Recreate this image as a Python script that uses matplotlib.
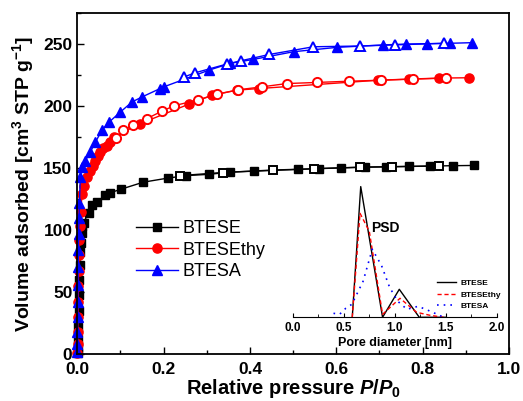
import matplotlib
matplotlib.use("Agg")
import matplotlib.pyplot as plt
from matplotlib.ticker import MultipleLocator

plt.rcParams['font.family'] = ['Liberation Sans', 'DejaVu Sans']
plt.rcParams['mathtext.fontset'] = 'custom'
plt.rcParams['mathtext.rm'] = 'Liberation Sans:bold'
plt.rcParams['mathtext.it'] = 'Liberation Sans:bold:italic'
plt.rcParams['mathtext.bf'] = 'Liberation Sans:bold'

# ---- Isotherm data (relative pressure, volume adsorbed) ----
btese_ads_x = [0.0005, 0.001, 0.0015, 0.002, 0.003, 0.004, 0.005, 0.006, 0.007, 0.008, 0.010, 0.012,
               0.0146, 0.026, 0.034, 0.046, 0.065, 0.075, 0.101, 0.153, 0.210, 0.252, 0.304, 0.354,
               0.410, 0.511, 0.560, 0.610, 0.667, 0.715, 0.769, 0.817, 0.870, 0.919]
btese_ads_y = [1, 5, 12, 22, 35, 48, 60, 72, 82, 90, 98, 103,
               106, 114, 120, 122.5, 128, 130, 133, 138.7, 142, 144, 145, 146.8,
               147.6, 149, 149.7, 150.3, 150.9, 151.1, 151.4, 151.7, 152, 152.2]
btese_des_x = [0.238, 0.337, 0.453, 0.548, 0.655, 0.728, 0.838]
btese_des_y = [144, 146.5, 148.5, 149.5, 150.7, 151.2, 151.8]

btesethy_ads_x = [0.0002, 0.0005, 0.001, 0.0015, 0.002, 0.0025, 0.003, 0.004, 0.005, 0.006, 0.008,
                  0.011, 0.015, 0.022, 0.030, 0.036, 0.042, 0.048, 0.053, 0.060, 0.069, 0.076, 0.084,
                  0.146, 0.258, 0.312, 0.370, 0.422, 0.697, 0.769, 0.838, 0.908]
btesethy_ads_y = [1, 8, 18, 30, 42, 55, 67, 80, 92, 103, 115,
                  129, 136, 143, 148, 152, 156, 160, 163, 166, 168, 171, 175,
                  186, 201.6, 209, 213, 214.3, 221, 221.9, 222.7, 223]
btesethy_des_x = [0.090, 0.107, 0.130, 0.161, 0.196, 0.225, 0.279, 0.323, 0.373, 0.427, 0.485,
                  0.555, 0.630, 0.704, 0.778, 0.854]
btesethy_des_y = [174.7, 180.6, 184.6, 190, 196, 200.5, 205, 209.5, 213.3, 215.6, 218.3,
                  219.2, 220.2, 221, 221.9, 222.7]

btesa_ads_x = [0.0001, 0.0002, 0.0004, 0.0007, 0.001, 0.0015, 0.002, 0.0025, 0.003, 0.004, 0.005,
               0.007, 0.011, 0.0185, 0.030, 0.042, 0.057, 0.073, 0.100, 0.127, 0.150, 0.192, 0.200,
               0.304, 0.354, 0.408, 0.501, 0.601, 0.709, 0.762, 0.811, 0.863, 0.914]
btesa_ads_y = [2, 8, 18, 30, 42, 56, 70, 84, 97, 110, 122,
               143, 151, 156, 163, 171, 180.6, 187, 195.4, 203.5, 207.5, 214.3, 215.6,
               229, 234.6, 237.8, 244, 247.5, 249.5, 250.2, 250.5, 250.8, 251.3]
btesa_des_x = [0.248, 0.273, 0.346, 0.379, 0.445, 0.547, 0.655, 0.736, 0.850]
btesa_des_y = [223.7, 227, 234, 236.7, 241.8, 248, 248.6, 249.5, 250.8]

# ---- PSD inset data (pore diameter nm, relative intensity) ----
psd_btese_x = [0.584, 0.667, 0.881, 1.045, 1.241, 1.50]
psd_btese_y = [0, 130.7, 0, 28, 0, 0]
psd_btesethy_x = [0.584, 0.660, 0.751, 0.881, 1.052, 1.215, 1.346, 1.48]
psd_btesethy_y = [0, 104, 86, 3, 19, 5, 2, 0]
psd_btesa_x = [0.40, 0.46, 0.52, 0.58, 0.69, 0.78, 0.87, 0.95, 1.03, 1.12, 1.23, 1.35, 1.46]
psd_btesa_y = [4, 3, 9, 13, 36, 68, 52, 30, 16, 8, 11, 6, 1]

names = ['BTESE', 'BTESEthy', 'BTESA']
colors = ['black', 'red', 'blue']
markers = ['s', 'o', '^']
msizes = [5.8, 6.6, 7.2]

fig = plt.figure(figsize=(5.23, 4.01), dpi=100)
ax = fig.add_axes([0.1478, 0.1172, 0.8254, 0.8496])

series = [(btese_ads_x, btese_ads_y, btese_des_x, btese_des_y),
          (btesethy_ads_x, btesethy_ads_y, btesethy_des_x, btesethy_des_y),
          (btesa_ads_x, btesa_ads_y, btesa_des_x, btesa_des_y)]

for (ax_x, ax_y, dx, dy), name, c, m, ms in zip(series, names, colors, markers, msizes):
    ax.plot(ax_x, ax_y, color=c, marker=m, ms=ms, lw=1, mec=c, mfc=c, label=name, clip_on=False)
    ax.plot(dx, dy, color=c, marker=m, ms=ms, lw=1, mec=c, mfc='white', mew=1.4, clip_on=False)

ax.set_xlim(0, 1.0)
ax.set_ylim(0, 275)
ax.xaxis.set_major_locator(MultipleLocator(0.2))
ax.xaxis.set_minor_locator(MultipleLocator(0.1))
ax.yaxis.set_major_locator(MultipleLocator(50))
ax.yaxis.set_minor_locator(MultipleLocator(25))
ax.tick_params(which='both', direction='in', top=False, right=False)
ax.tick_params(which='major', length=5, width=1, labelsize=12.5)
ax.tick_params(which='minor', length=3, width=1)
ax.tick_params(axis='x', which='major', pad=5.5)
for lab in ax.get_xticklabels() + ax.get_yticklabels():
    lab.set_fontweight('bold')
for sp in ax.spines.values():
    sp.set_linewidth(1.3)

ax.set_xlabel('Relative pressure $\\mathit{P/P}_0$', fontsize=14.5, fontweight='bold', labelpad=0)
ax.set_ylabel('Volume adsorbed [cm$^3$ STP g$^{-1}$]', fontsize=14, fontweight='bold', labelpad=5)

leg = ax.legend(loc='upper left', bbox_to_anchor=(127 / 523, 1 - 211 / 401),
                bbox_transform=fig.transFigure, frameon=False, fontsize=13,
                handlelength=2.3, handletextpad=0.3, labelspacing=0.25, borderpad=0)

# ---- Inset ----
ax2 = fig.add_axes([292.7 / 523, 1 - 317.3 / 401, 204 / 523, 140 / 401])
ax2.patch.set_alpha(0)
ax2.plot(psd_btese_x, psd_btese_y, color='black', lw=1, ls='-', label='BTESE')
ax2.plot(psd_btesethy_x, psd_btesethy_y, color='red', lw=1, ls=(0, (3, 2)), label='BTESEthy')
ax2.plot(psd_btesa_x, psd_btesa_y, color='blue', lw=1.2, ls=(0, (1, 3)), label='BTESA')
ax2.set_xlim(0, 2.0)
ax2.set_ylim(0, 140)
for s in ['top', 'right', 'left']:
    ax2.spines[s].set_visible(False)
ax2.set_yticks([])
ax2.xaxis.set_major_locator(MultipleLocator(0.5))
ax2.xaxis.set_minor_locator(MultipleLocator(0.25))
ax2.tick_params(which='both', direction='in', labelsize=8.5)
ax2.tick_params(which='major', length=3)
ax2.tick_params(which='minor', length=2)
for lab in ax2.get_xticklabels():
    lab.set_fontweight('bold')
ax2.set_xlabel('Pore diameter [nm]', fontsize=9, fontweight='bold', labelpad=2)
ax2.text(0.905, 89, 'PSD', fontsize=10, fontweight='bold', ha='center', va='center')
leg2 = ax2.legend(loc='upper left', bbox_to_anchor=(433 / 523, 1 - 275 / 401),
                  bbox_transform=fig.transFigure, frameon=False,
                  prop={'size': 6, 'weight': 'bold'}, handlelength=2.3,
                  handletextpad=0.5, labelspacing=0.45, borderpad=0)

fig.savefig('out.png', dpi=100)
